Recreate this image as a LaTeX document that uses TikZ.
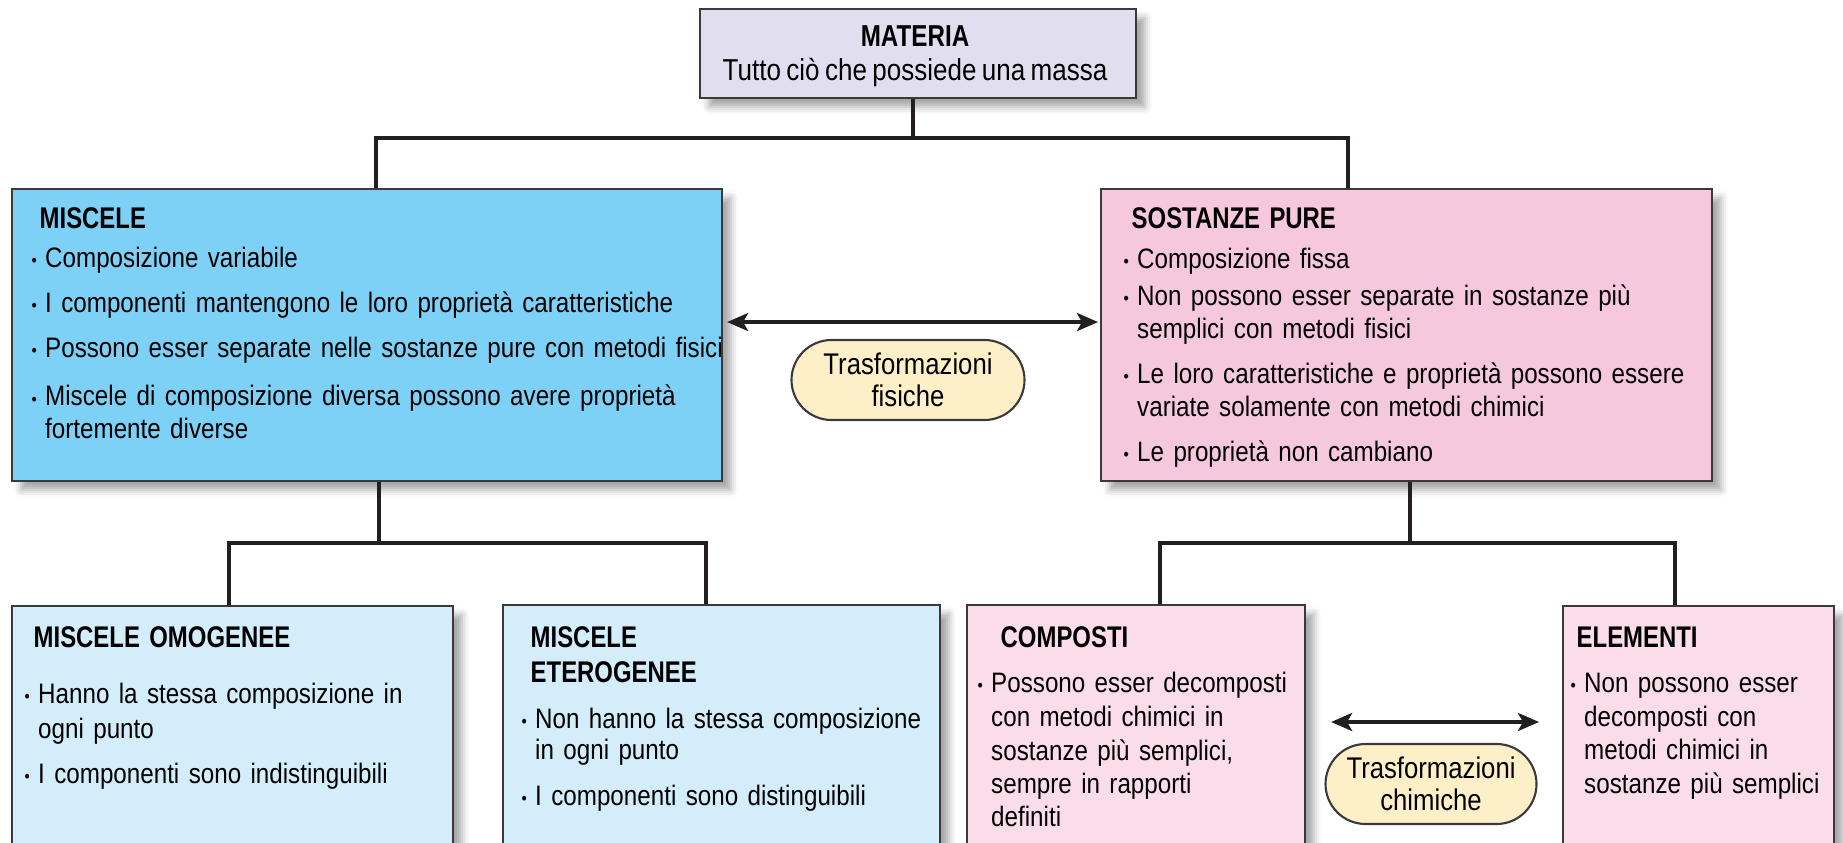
\documentclass[tikz,border=0pt]{standalone}
\usepackage{fontspec}
\setmainfont{Liberation Sans}[FakeStretch=0.86,WordSpace=0.75,BoldFeatures={FakeStretch=0.8}]
\usetikzlibrary{arrows.meta,shapes.misc,shadows.blur,calc}

\definecolor{materiafill}{HTML}{E1DFEF}
\definecolor{miscfill}{HTML}{7DD1F6}
\definecolor{purefill}{HTML}{F6C8DD}
\definecolor{misclight}{HTML}{D3EDFA}
\definecolor{purelight}{HTML}{FADDE9}
\definecolor{ovalfill}{HTML}{FDF0C8}
\definecolor{boxline}{HTML}{3A3A3C}
\definecolor{linecol}{HTML}{231F20}

\newcommand{\bul}{\makebox[1.35mm][l]{\raisebox{0.05ex}{\fontsize{5}{5}\selectfont •}}}
\newcommand{\ind}{\hspace*{1.35mm}}
\newcommand{\hd}[1]{{\fontsize{8.5}{9.3}\selectfont\bfseries #1}}

\begin{document}
\begin{tikzpicture}[x=0.01cm,y=-0.01cm,line join=miter]
   \useasboundingbox (0,0) rectangle (1843,843);
   \tikzstyle{box}=[draw=boxline, line width=0.6pt, anchor=north west, inner sep=0pt, blur shadow={shadow xshift=2.5pt,shadow yshift=-2.5pt,shadow blur radius=2pt,shadow opacity=35}]
   \tikzstyle{txt}=[anchor=north west, inner sep=0pt, align=left, font=\fontsize{8}{9.3}\selectfont]
   \tikzstyle{oval}=[rounded rectangle, draw=boxline, line width=0.6pt, fill=ovalfill, align=center, inner sep=0pt, font=\fontsize{8.5}{9.1}\selectfont]
   \tikzstyle{link}=[draw=linecol, line width=1pt]
   \tikzstyle{dbl}=[link, {Stealth[length=2.1mm,width=1.8mm,inset=0.5mm]}-{Stealth[length=2.1mm,width=1.8mm,inset=0.5mm]}]
   \foreach \n/\x/\y/\w/\h/\c in {materia/699/8/436/89/materiafill, miscele/11/188/710/292/miscfill, sostanze/1100/188/611/292/purefill, omogenee/11/605/441/300/misclight, eterogenee/502/604/437/300/misclight, composti/966/604/338/300/purelight, elementi/1562/605/271/300/purelight}
      \node[box, fill=\c, minimum width=\w*0.01cm, minimum height=\h*0.01cm] (\n) at (\x,\y) {};
   % testi
   \node[anchor=north, inner sep=0pt, align=center, font=\fontsize{8.6}{9.7}\selectfont] (materia-t) at (915,25) {\bfseries MATERIA\\Tutto ciò che possiede una massa};
   \node[txt, text width=7cm] (miscele-t) at (31,207) {\hspace*{0.8mm}\hd{MISCELE}\\[1.8pt]
      \bul Composizione variabile\\[3.5pt]
      \bul I componenti mantengono le loro proprietà caratteristiche\\[3.5pt]
      \bul Possono esser separate nelle sostanze pure con metodi fisici\\[4.4pt]
      \bul Miscele di composizione diversa possono avere proprietà\\
      \ind fortemente diverse};
   \node[txt, text width=6cm] (sostanze-t) at (1123,207) {\hspace*{0.8mm}\hd{SOSTANZE PURE}\\[2.1pt]
      \bul Composizione fissa\\[1.2pt]
      \bul Non possono esser separate in sostanze più\\
      \ind semplici con metodi fisici\\[3.5pt]
      \bul Le loro caratteristiche e proprietà possono essere\\
      \ind variate solamente con metodi chimici\\[3.5pt]
      \bul Le proprietà non cambiano};
   \node[txt, text width=4.3cm] (omogenee-t) at (24,626) {\hspace*{0.9mm}\hd{MISCELE OMOGENEE}\\[6.6pt]
      \bul Hanno la stessa composizione in\\[0.6pt]
      \ind ogni punto\\[3.5pt]
      \bul I componenti sono indistinguibili};
   \node[txt, text width=4.3cm] (eterogenee-t) at (521,626) {\hspace*{0.9mm}\hd{MISCELE}\\[0.6pt]
      \hspace*{0.9mm}\hd{ETEROGENEE}\\[3.8pt]
      \bul Non hanno la stessa composizione\\[-0.5pt]
      \ind in ogni punto\\[3.8pt]
      \bul I componenti sono distinguibili};
   \node[txt, text width=3.3cm] (composti-t) at (977,626) {\hspace*{2.3mm}\hd{COMPOSTI}\\[3.5pt]
      \bul Possono esser decomposti\\[0.3pt]
      \ind con metodi chimici in\\[0.3pt]
      \ind sostanze più semplici,\\[0.3pt]
      \ind sempre in rapporti\\
      \ind definiti};
   \node[txt, text width=2.7cm] (elementi-t) at (1570,626) {\hspace*{0.6mm}\hd{ELEMENTI}\\[3.5pt]
      \bul Non possono esser\\[0.3pt]
      \ind decomposti con\\[0.3pt]
      \ind metodi chimici in\\[0.3pt]
      \ind sostanze più semplici};
   % collegamenti
   \coordinate (tj) at (913,138);
   \coordinate (tl) at (376,138);
   \coordinate (tr) at (1348,138);
   \draw[link] (materia.south -| tj) -- (tj);
   \draw[link] (miscele.north -| tl) |- (tr) -- (sostanze.north -| tr);
   \coordinate (mj) at (379,543);
   \coordinate (ml) at (229,543);
   \coordinate (mr) at (706,543);
   \draw[link] (miscele.south -| mj) -- (mj);
   \draw[link] (omogenee.north -| ml) |- (mr) -- (eterogenee.north -| mr);
   \coordinate (sj) at (1410,543);
   \coordinate (sl) at (1160,543);
   \coordinate (sr) at (1675,543);
   \draw[link] (sostanze.south -| sj) -- (sj);
   \draw[link] (composti.north -| sl) |- (sr) -- (elementi.north -| sr);
   % trasformazioni
   \node[oval, minimum width=233*0.01cm, minimum height=80*0.01cm] (fisiche) at (908,380) {Trasformazioni\\fisiche};
   \node[oval, minimum width=211*0.01cm, minimum height=80*0.01cm] (chimiche) at (1431,784) {Trasformazioni\\chimiche};
   \draw[dbl] ($(miscele.east)+(4,-13)$) -- ($(sostanze.west)+(-2,-13)$);
   \draw[dbl] ($(composti.north east)+(25,118)$) -- ($(elementi.north west)+(-23,117)$);
\end{tikzpicture}
\end{document}
